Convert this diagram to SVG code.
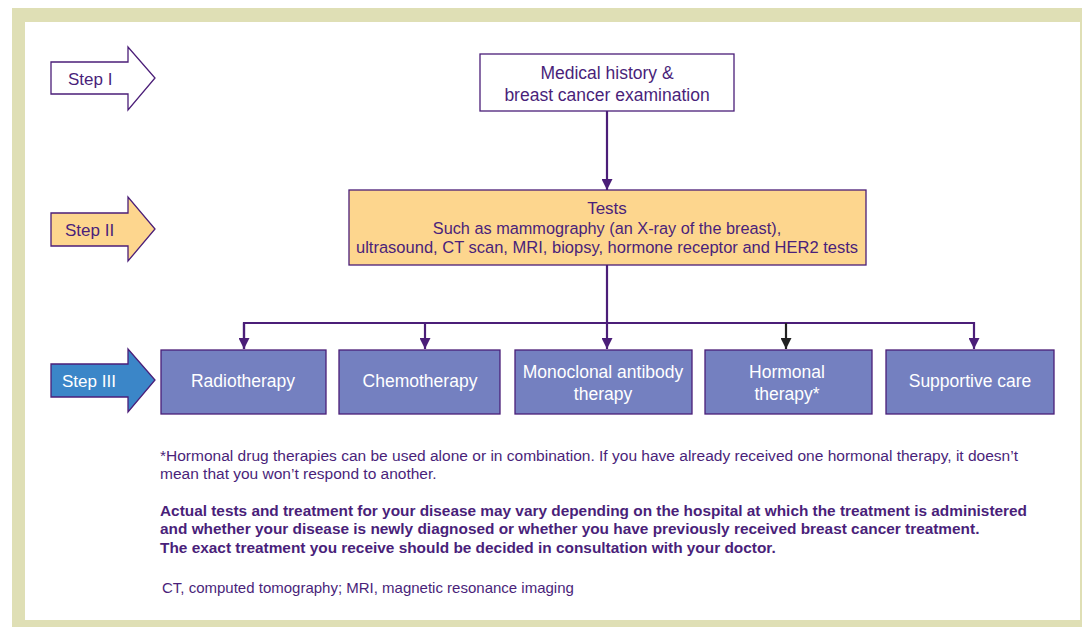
<svg xmlns="http://www.w3.org/2000/svg" width="1082" height="627" viewBox="0 0 1082 627">
<defs>
<style>
text{font-family:"Liberation Sans",Arial,sans-serif}
.step{stroke:#4b1e78;stroke-width:1.3}
.st{font-size:17px;fill:#4a1f7a}
.box{stroke:#4b1e78;stroke-width:1.3}
.tx{fill:#4a1f7a;text-anchor:middle}
.wt{fill:#ffffff;text-anchor:middle;font-size:17.5px}
.con{fill:none;stroke:#4b1e78;stroke-width:2.2}
.note{fill:#4a1f7a;font-size:15.5px}
.bold{font-weight:bold;font-size:15.4px}
</style>
<marker id="ah" viewBox="0 0 10 10" refX="10" refY="5" markerWidth="5.5" markerHeight="5" orient="auto" markerUnits="strokeWidth">
<path d="M0,0 L10,5 L0,10 z" fill="#4b1e78"/>
</marker>
<marker id="ahk" viewBox="0 0 10 10" refX="10" refY="5" markerWidth="5.5" markerHeight="5" orient="auto" markerUnits="strokeWidth">
<path d="M0,0 L10,5 L0,10 z" fill="#222222"/>
</marker>
</defs>
<rect x="12" y="8" width="1070" height="619" fill="#dfdfb5"/>
<rect x="25" y="22" width="1055" height="598" fill="#ffffff"/>

<g id="step1">
<path class="step" d="M51,62 H128 V47 L155,78 L128,110 V94 H51 Z" fill="#ffffff"/>
<text class="st" x="68" y="85">Step I</text>
</g>
<g id="step2">
<path class="step" d="M51,213 H128 V197 L155,229 L128,261 V246 H51 Z" fill="#fdd68e"/>
<text class="st" x="65" y="236">Step II</text>
</g>
<g id="step3">
<path class="step" d="M51,364 H128 V349 L155,380 L128,412 V397 H51 Z" fill="#3b86c8"/>
<text x="62" y="387" font-size="17" fill="#ffffff">Step III</text>
</g>

<g id="medical">
<rect class="box" x="480" y="54" width="254" height="57" fill="#ffffff"/>
<text class="tx" x="607" y="79" font-size="17.5">Medical history &amp;</text>
<text class="tx" x="607" y="101" font-size="17.5">breast cancer examination</text>
</g>

<g id="tests">
<rect class="box" x="349" y="190" width="517" height="75" fill="#fdd68e"/>
<text class="tx" x="607" y="214" font-size="17">Tests</text>
<text class="tx" x="607" y="234" font-size="16.3">Such as mammography (an X-ray of the breast),</text>
<text class="tx" x="607" y="253" font-size="16.3" textLength="502" lengthAdjust="spacingAndGlyphs">ultrasound, CT scan, MRI, biopsy, hormone receptor and HER2 tests</text>
</g>

<g id="radiotherapy">
<rect class="box" x="161" y="350" width="165" height="64" fill="#7480c0"/>
<text class="wt" x="243" y="387">Radiotherapy</text>
</g>
<g id="chemotherapy">
<rect class="box" x="339" y="350" width="161" height="64" fill="#7480c0"/>
<text class="wt" x="420" y="387">Chemotherapy</text>
</g>
<g id="monoclonal">
<rect class="box" x="515" y="350" width="177" height="64" fill="#7480c0"/>
<text class="wt" x="603" y="378">Monoclonal antibody</text>
<text class="wt" x="603" y="400">therapy</text>
</g>
<g id="hormonal">
<rect class="box" x="705" y="350" width="167" height="64" fill="#7480c0"/>
<text class="wt" x="787" y="378">Hormonal</text>
<text class="wt" x="787" y="400">therapy*</text>
</g>
<g id="supportive">
<rect class="box" x="886" y="350" width="168" height="64" fill="#7480c0"/>
<text class="wt" x="970" y="387">Supportive care</text>
</g>

<g id="connectors">
<line class="con" x1="607" y1="111" x2="607" y2="190" marker-end="url(#ah)"/>
<line class="con" x1="607" y1="265" x2="607" y2="349" marker-end="url(#ah)"/>
<polyline class="con" points="244,349 244,323 974,323 974,349" marker-end="url(#ah)"/>
<line class="con" x1="244" y1="323" x2="244" y2="349" marker-end="url(#ah)"/>
<line class="con" x1="425" y1="323" x2="425" y2="349" marker-end="url(#ah)"/>
<line class="con" x1="786" y1="323" x2="786" y2="349" style="stroke:#222222" marker-end="url(#ahk)"/>
</g>

<g id="notes">
<text class="note" x="160" y="461" textLength="858" lengthAdjust="spacingAndGlyphs">*Hormonal drug therapies can be used alone or in combination. If you have already received one hormonal therapy, it doesn’t</text>
<text class="note" x="160" y="479">mean that you won’t respond to another.</text>
<text class="note bold" x="160" y="516" textLength="867" lengthAdjust="spacingAndGlyphs">Actual tests and treatment for your disease may vary depending on the hospital at which the treatment is administered</text>
<text class="note bold" x="160" y="534">and whether your disease is newly diagnosed or whether you have previously received breast cancer treatment.</text>
<text class="note bold" x="160" y="553">The exact treatment you receive should be decided in consultation with your doctor.</text>
<text class="note" x="162" y="593" font-size="15" style="font-size:15px">CT, computed tomography; MRI, magnetic resonance imaging</text>
</g>
</svg>
